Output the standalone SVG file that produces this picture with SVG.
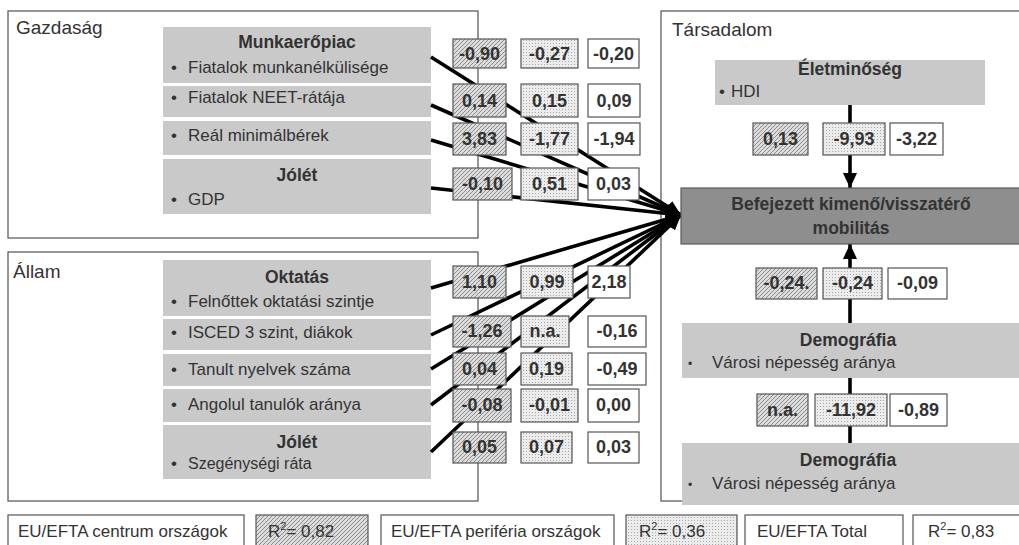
<svg xmlns="http://www.w3.org/2000/svg" width="1019" height="545" viewBox="0 0 1019 545">
<defs>
<style>
text{font-family:"Liberation Sans",Arial,sans-serif;fill:#333}
.frame{fill:#fff;stroke:#5e5e5e;stroke-width:1.3}
.title{font-size:19px}
.gbox{fill:#c9c9c9}
.dbox{fill:#8e8e8e;stroke:#5a5a5a;stroke-width:1.2}
.hd{font-size:17.5px;font-weight:bold;text-anchor:middle}
.bl{font-size:17px}
.v1{fill:url(#hatch);stroke:#555;stroke-width:1.2}
.v2{fill:url(#dots);stroke:#555;stroke-width:1.2}
.v3{fill:#fff;stroke:#555;stroke-width:1.2}
.vt{font-size:18px;font-weight:bold;text-anchor:middle}
.lg{font-size:17px}
.conn{stroke:#000;stroke-width:3.6;fill:none}
</style>
<pattern id="hatch" patternUnits="userSpaceOnUse" width="4" height="4">
<rect width="4" height="4" fill="#dcdcdc"/>
<path d="M-1,1 L1,-1 M0,4 L4,0 M3,5 L5,3" stroke="#8c8c8c" stroke-width="1"/>
</pattern>
<pattern id="dots" patternUnits="userSpaceOnUse" width="3" height="3">
<rect width="3" height="3" fill="#ececec"/>
<rect x="1" y="1" width="1" height="1" fill="#a8a8a8"/>
</pattern>
<marker id="ah" markerUnits="userSpaceOnUse" markerWidth="16" markerHeight="14" refX="15" refY="7" orient="auto">
<path d="M0,0 L15,7 L0,14 z" fill="#000"/>
</marker>
</defs>

<g id="frames">
<rect class="frame" x="8" y="11" width="470" height="227"/>
<text class="title" x="16" y="34">Gazdaság</text>
<rect class="frame" x="8" y="252" width="470" height="249"/>
<text class="title" x="13" y="278">Állam</text>
<rect class="frame" x="661" y="11" width="380" height="490"/>
<text class="title" x="672" y="36">Társadalom</text>
</g>

<g id="node-munkaeropiac">
<rect class="gbox" x="163" y="27" width="268" height="56"/>
<text class="hd" x="297" y="48">Munkaerőpiac</text>
<text class="bl" x="171" y="73">•</text><text class="bl" x="188" y="73">Fiatalok munkanélkülisége</text>
</g>
<g id="node-neet">
<rect class="gbox" x="163" y="86" width="268" height="31"/>
<text class="bl" x="171" y="103">•</text><text class="bl" x="188" y="103">Fiatalok NEET-rátája</text>
</g>
<g id="node-real">
<rect class="gbox" x="163" y="121" width="268" height="34"/>
<text class="bl" x="171" y="141">•</text><text class="bl" x="188" y="141">Reál minimálbérek</text>
</g>
<g id="node-jolet-gdp">
<rect class="gbox" x="163" y="159" width="268" height="55"/>
<text class="hd" x="297" y="181">Jólét</text>
<text class="bl" x="171" y="205">•</text><text class="bl" x="188" y="205">GDP</text>
</g>

<g id="node-oktatas">
<rect class="gbox" x="163" y="260" width="268" height="56"/>
<text class="hd" x="297" y="283">Oktatás</text>
<text class="bl" x="171" y="307">•</text><text class="bl" x="188" y="307">Felnőttek oktatási szintje</text>
</g>
<g id="node-isced">
<rect class="gbox" x="163" y="319" width="268" height="31"/>
<text class="bl" x="171" y="338">•</text><text class="bl" x="188" y="338">ISCED 3 szint, diákok</text>
</g>
<g id="node-nyelvek">
<rect class="gbox" x="163" y="354" width="268" height="32"/>
<text class="bl" x="171" y="375">•</text><text class="bl" x="188" y="375">Tanult nyelvek száma</text>
</g>
<g id="node-angol">
<rect class="gbox" x="163" y="389" width="268" height="33"/>
<text class="bl" x="171" y="410">•</text><text class="bl" x="188" y="410">Angolul tanulók aránya</text>
</g>
<g id="node-jolet-szeg">
<rect class="gbox" x="163" y="425" width="268" height="54"/>
<text class="hd" x="297" y="448">Jólét</text>
<text class="bl" x="171" y="469">•</text><text class="bl" x="188" y="469" style="font-size:16px">Szegénységi ráta</text>
</g>

<g id="node-eletminoseg">
<rect class="gbox" x="715" y="60" width="270" height="45"/>
<text class="hd" x="850" y="75">Életminőség</text>
<text class="bl" x="719" y="97">•</text><text class="bl" x="731" y="97">HDI</text>
</g>
<g id="node-demografia-1">
<rect class="gbox" x="682" y="323" width="340" height="55"/>
<text class="hd" x="848" y="346">Demográfia</text>
<text class="bl" x="688" y="368" style="font-size:12px">•</text><text class="bl" x="712" y="368">Városi népesség aránya</text>
</g>
<g id="node-demografia-2">
<rect class="gbox" x="682" y="443" width="340" height="62"/>
<text class="hd" x="848" y="466">Demográfia</text>
<text class="bl" x="688" y="489" style="font-size:12px">•</text><text class="bl" x="712" y="489">Városi népesség aránya</text>
</g>

<g id="connectors">
<line class="conn" x1="431" y1="57" x2="681" y2="215" marker-end="url(#ah)"/>
<line class="conn" x1="431" y1="105" x2="681" y2="215" marker-end="url(#ah)"/>
<line class="conn" x1="431" y1="140" x2="681" y2="215" marker-end="url(#ah)"/>
<line class="conn" x1="431" y1="188" x2="681" y2="215" marker-end="url(#ah)"/>
<line class="conn" x1="431" y1="288" x2="681" y2="215" marker-end="url(#ah)"/>
<line class="conn" x1="431" y1="335" x2="681" y2="215" marker-end="url(#ah)"/>
<line class="conn" x1="431" y1="369" x2="681" y2="215" marker-end="url(#ah)"/>
<line class="conn" x1="431" y1="405" x2="681" y2="215" marker-end="url(#ah)"/>
<line class="conn" x1="431" y1="452" x2="681" y2="215" marker-end="url(#ah)"/>
<line class="conn" x1="850" y1="105" x2="850" y2="188" marker-end="url(#ah)"/>
<line class="conn" x1="850" y1="323" x2="850" y2="244" marker-end="url(#ah)"/>
<line class="conn" x1="850" y1="443" x2="850" y2="378"/>
</g>

<g id="node-befejezett">
<rect class="dbox" x="681" y="188" width="345" height="56"/>
<text class="hd" x="851" y="210">Befejezett kimenő/visszatérő</text>
<text class="hd" x="851" y="234">mobilitás</text>
</g>

<g id="values-gazdasag">
<rect class="v1" x="453" y="39" width="53" height="29"/><text class="vt" x="479.5" y="60">-0,90</text>
<rect class="v2" x="521" y="39" width="57" height="29"/><text class="vt" x="549.5" y="60">-0,27</text>
<rect class="v3" x="588" y="39" width="51" height="29"/><text class="vt" x="613.5" y="60">-0,20</text>
<rect class="v1" x="453" y="84" width="53" height="33"/><text class="vt" x="479.5" y="107">0,14</text>
<rect class="v2" x="521" y="84" width="57" height="33"/><text class="vt" x="549.5" y="107">0,15</text>
<rect class="v3" x="588" y="84" width="52" height="33"/><text class="vt" x="614" y="107">0,09</text>
<rect class="v1" x="453" y="123" width="53" height="32"/><text class="vt" x="479.5" y="145">3,83</text>
<rect class="v2" x="521" y="123" width="57" height="32"/><text class="vt" x="549.5" y="145">-1,77</text>
<rect class="v3" x="588" y="123" width="52" height="32"/><text class="vt" x="614" y="145">-1,94</text>
<rect class="v1" x="453" y="168" width="59" height="32"/><text class="vt" x="482.5" y="190">-0,10</text>
<rect class="v2" x="521" y="168" width="57" height="32"/><text class="vt" x="549.5" y="190">0,51</text>
<rect class="v3" x="588" y="168" width="51" height="32"/><text class="vt" x="613.5" y="190">0,03</text>
</g>

<g id="values-allam">
<rect class="v1" x="453" y="266" width="53" height="32"/><text class="vt" x="479.5" y="288">1,10</text>
<rect class="v2" x="521" y="266" width="52" height="32"/><text class="vt" x="547" y="288">0,99</text>
<rect class="v3" x="588" y="266" width="42" height="32"/><text class="vt" x="609" y="288">2,18</text>
<rect class="v1" x="453" y="316" width="58" height="31"/><text class="vt" x="482" y="337">-1,26</text>
<rect class="v2" x="521" y="316" width="48" height="31"/><text class="vt" x="545" y="337">n.a.</text>
<rect class="v3" x="588" y="316" width="58" height="31"/><text class="vt" x="617" y="337">-0,16</text>
<rect class="v1" x="453" y="353" width="53" height="32"/><text class="vt" x="479.5" y="375">0,04</text>
<rect class="v2" x="521" y="353" width="51" height="32"/><text class="vt" x="546.5" y="375">0,19</text>
<rect class="v3" x="588" y="353" width="58" height="32"/><text class="vt" x="617" y="375">-0,49</text>
<rect class="v1" x="453" y="389" width="58" height="33"/><text class="vt" x="482" y="411">-0,08</text>
<rect class="v2" x="521" y="389" width="57" height="33"/><text class="vt" x="549.5" y="411">-0,01</text>
<rect class="v3" x="588" y="389" width="51" height="33"/><text class="vt" x="613.5" y="411">0,00</text>
<rect class="v1" x="453" y="432" width="53" height="31"/><text class="vt" x="479.5" y="453">0,05</text>
<rect class="v2" x="521" y="432" width="51" height="31"/><text class="vt" x="546.5" y="453">0,07</text>
<rect class="v3" x="588" y="432" width="51" height="31"/><text class="vt" x="613.5" y="453">0,03</text>
</g>

<g id="values-tarsadalom">
<rect class="v1" x="753" y="123" width="55" height="32"/><text class="vt" x="780.5" y="145">0,13</text>
<rect class="v2" x="823" y="123" width="62" height="32"/><text class="vt" x="854" y="145">-9,93</text>
<rect class="v3" x="890" y="123" width="53" height="32"/><text class="vt" x="916.5" y="145">-3,22</text>
<rect class="v1" x="756" y="268" width="61" height="31"/><text class="vt" x="786.5" y="289">-0,24.</text>
<rect class="v2" x="823" y="268" width="59" height="31"/><text class="vt" x="852.5" y="289">-0,24</text>
<rect class="v3" x="888" y="268" width="59" height="31"/><text class="vt" x="917.5" y="289">-0,09</text>
<rect class="v1" x="757" y="394" width="51" height="32"/><text class="vt" x="782.5" y="416">n.a.</text>
<rect class="v2" x="815" y="394" width="72" height="32"/><text class="vt" x="851" y="416">-11,92</text>
<rect class="v3" x="890" y="394" width="57" height="32"/><text class="vt" x="918.5" y="416">-0,89</text>
</g>

<g id="legend">
<rect class="v3" x="8" y="515" width="236" height="40"/><text class="lg" x="18" y="537">EU/EFTA centrum országok</text>
<rect class="v1" x="256" y="515" width="112" height="40"/><text class="lg" x="268" y="537">R<tspan font-size="11" dy="-7">2</tspan><tspan dy="7">= 0,82</tspan></text>
<rect class="v3" x="381" y="515" width="233" height="40"/><text class="lg" x="391" y="537">EU/EFTA periféria országok</text>
<rect class="v2" x="626" y="515" width="111" height="40"/><text class="lg" x="639" y="537">R<tspan font-size="11" dy="-7">2</tspan><tspan dy="7">= 0,36</tspan></text>
<rect class="v3" x="745" y="515" width="158" height="40"/><text class="lg" x="757" y="537">EU/EFTA Total</text>
<rect class="v3" x="913" y="515" width="110" height="40"/><text class="lg" x="928" y="537">R<tspan font-size="11" dy="-7">2</tspan><tspan dy="7">= 0,83</tspan></text>
</g>
</svg>
